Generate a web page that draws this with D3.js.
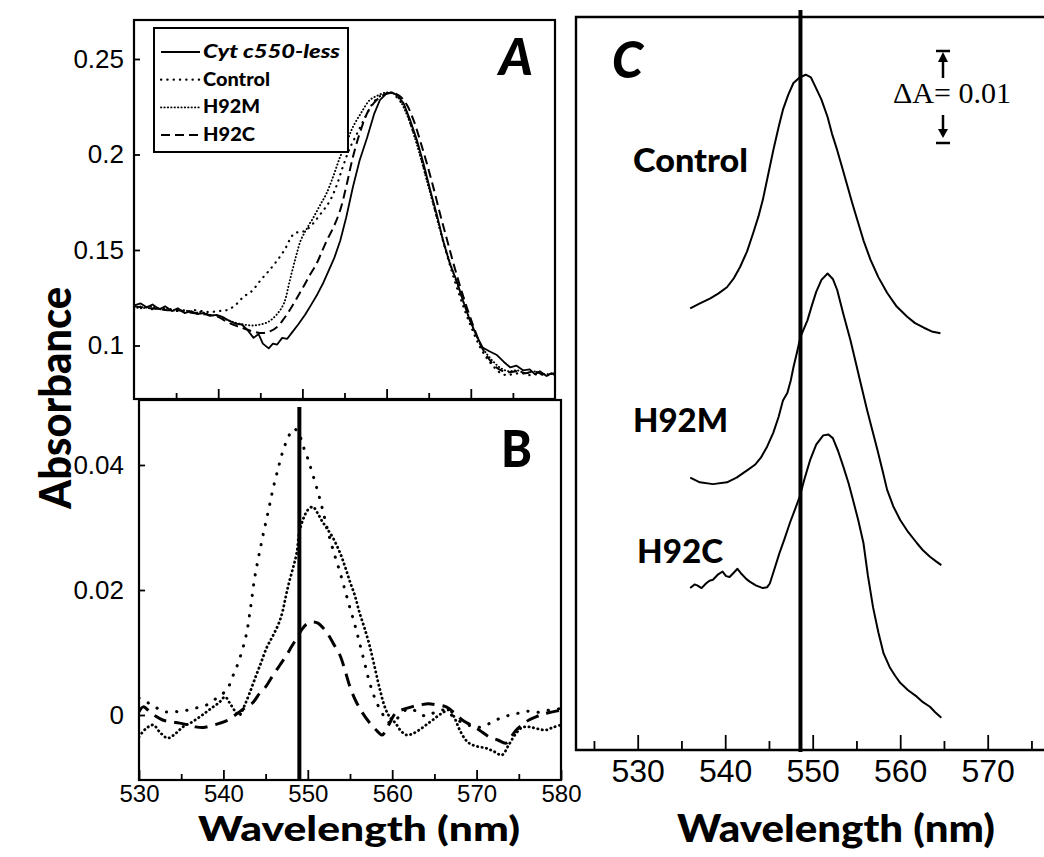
<!DOCTYPE html>
<html><head><meta charset="utf-8">
<script src="https://cdn.jsdelivr.net/npm/d3@7"></script>
<style>html,body{margin:0;padding:0;background:#fff;}svg{display:block;}</style>
</head><body>
<script>
// ---------- DATA ----------
const seriesNames = ["Cyt c550-less", "Control", "H92M", "H92C"];
const panelCLabels = ["Control", "H92M", "H92C"];
const xTicksAB = [530, 540, 550, 560, 570, 580];
const xMinorAB = [535, 545, 555, 565, 575];
const xTicksC = [530, 540, 550, 560, 570];
const xMinorC = [525, 535, 545, 555, 565, 575];
const yTicksA = [0.1, 0.15, 0.2, 0.25];
const yTickLabelsA = ["0.1", "0.15", "0.2", "0.25"];
const yTicksB = [0, 0.02, 0.04];
const yTickLabelsB = ["0", "0.02", "0.04"];
const markerB = 549.0;   // vertical line, panel B (nm)
const markerC = 548.6;   // vertical line, panel C (nm)
const scaleBarC = 0.01;  // ΔA scale bar

// Panel A: absorbance spectra [nm, A]
const aCytLess = [[530,0.121],[530.8,0.122],[531.5,0.120],[532.2,0.1215],[533,0.119],[533.7,0.1205],[534.5,0.118],[535.2,0.1195],[536,0.117],[536.8,0.118],[537.5,0.1165],[538.3,0.117],[539,0.1155],[539.8,0.116],[540.5,0.115],[541.3,0.113],[542,0.1115],[542.8,0.111],[543.5,0.108],[544.2,0.104],[544.8,0.106],[545.3,0.101],[546,0.0985],[546.5,0.101],[547,0.1005],[547.6,0.104],[548.2,0.1035],[548.8,0.107],[549.5,0.111],[550.3,0.116],[551,0.121],[551.8,0.127],[552.5,0.133],[553.2,0.140],[553.8,0.146],[554.5,0.155],[555.2,0.167],[556,0.183],[556.8,0.197],[557.7,0.209],[558.5,0.221],[559.2,0.2285],[560,0.232],[560.6,0.2325],[561.3,0.231],[562,0.227],[562.8,0.218],[563.6,0.2076],[564.4,0.195],[565.2,0.181],[566,0.168],[566.7,0.155],[567.5,0.143],[568.4,0.133],[569.1,0.123],[569.9,0.113],[570.7,0.105],[571.4,0.099],[572.2,0.097],[573.1,0.095],[573.9,0.0915],[574.7,0.0885],[575.4,0.0895],[576.2,0.087],[577,0.0875],[577.6,0.085],[578.2,0.0865],[579,0.084],[579.6,0.0855],[580,0.0845]];
const aControl = [[530,0.119],[531,0.1205],[532,0.119],[533,0.1195],[534,0.1185],[535,0.119],[536,0.1175],[537,0.1185],[538,0.118],[539,0.1175],[540,0.118],[541,0.1185],[542,0.121],[543,0.1255],[544,0.1285],[545,0.134],[546,0.139],[547,0.1445],[548,0.151],[548.7,0.157],[549.2,0.159],[550,0.1595],[550.6,0.161],[551.3,0.164],[552,0.168],[552.7,0.172],[553.3,0.176],[554,0.183],[554.8,0.1935],[555.6,0.203],[556.5,0.211],[557.4,0.219],[558.4,0.227],[559.2,0.2305],[560,0.232],[560.6,0.2322],[561.4,0.229],[562.2,0.224],[563,0.214],[563.8,0.203],[564.6,0.19],[565.4,0.177],[566.2,0.163],[567,0.15],[567.8,0.138],[568.6,0.127],[569.4,0.117],[570.2,0.108],[571,0.1],[571.8,0.094],[572.6,0.0895],[573.4,0.086],[574.2,0.0845],[575,0.085],[576,0.0855],[577,0.0845],[578,0.085],[579,0.0845],[580,0.085]];
const aH92M = [[530,0.12],[531,0.1195],[532,0.1205],[533,0.119],[534,0.1195],[535,0.118],[536,0.1185],[537,0.117],[538,0.1175],[539,0.116],[540,0.1155],[541,0.1135],[542,0.112],[543,0.111],[544,0.1105],[545,0.111],[546,0.1125],[547,0.1165],[547.8,0.122],[548.5,0.134],[549.2,0.146],[549.8,0.155],[550.5,0.161],[551.3,0.167],[552.1,0.1735],[552.9,0.18],[553.7,0.189],[554.5,0.199],[555.3,0.207],[556,0.2144],[557,0.222],[558,0.2285],[559,0.231],[560,0.2325],[560.8,0.232],[561.5,0.229],[562.3,0.222],[563.2,0.211],[564,0.199],[564.8,0.186],[565.6,0.173],[566.4,0.160],[567.2,0.148],[568,0.137],[568.8,0.127],[569.6,0.117],[570.4,0.108],[571.2,0.100],[572,0.095],[572.8,0.091],[573.6,0.088],[574.5,0.0865],[575.5,0.087],[576.5,0.0855],[577.5,0.0865],[578.5,0.085],[580,0.0855]];
const aH92C = [[530,0.1205],[531,0.12],[532,0.1195],[533,0.119],[534,0.1185],[535,0.1185],[536,0.118],[537,0.117],[538,0.1165],[539,0.116],[540,0.115],[541,0.1125],[542,0.1105],[543,0.109],[544,0.1075],[545.3,0.1065],[546.2,0.1075],[547,0.1097],[547.8,0.114],[548.5,0.1186],[549.3,0.1245],[550.1,0.1306],[550.9,0.137],[551.7,0.143],[552.3,0.149],[552.9,0.155],[553.7,0.162],[554.5,0.171],[555.3,0.185],[556,0.1987],[556.8,0.211],[557.7,0.2217],[558.5,0.227],[559.2,0.230],[560,0.2318],[560.8,0.2322],[561.6,0.2305],[562.4,0.226],[563.2,0.218],[564,0.207],[564.8,0.195],[565.6,0.182],[566.4,0.168],[567.2,0.155],[568,0.142],[568.8,0.13],[569.6,0.119],[570.4,0.109],[571.2,0.1],[572,0.094],[572.8,0.0895],[573.6,0.087],[574.5,0.086],[575.5,0.0865],[576.5,0.0855],[577.5,0.0865],[578.5,0.085],[580,0.0855]];

// Panel B: difference spectra [nm, ΔA]
const bControl = [[530,0.0027],[531,0.002],[532,0.0012],[533,0.0005],[534,0.0006],[535,0.0005],[536,0.0009],[537,0.0012],[538,0.0016],[539,0.0025],[540,0.0035],[540.6,0.0045],[541.2,0.0065],[541.8,0.0085],[542.7,0.0128],[543.2,0.017],[543.7,0.0219],[544.2,0.0255],[544.7,0.0288],[545.3,0.0325],[545.9,0.0363],[546.5,0.0395],[547,0.042],[547.7,0.0445],[548.3,0.0458],[548.9,0.0452],[549.4,0.0432],[550,0.041],[550.6,0.0384],[551.4,0.0347],[552,0.0315],[552.6,0.0283],[553.2,0.0255],[553.8,0.0229],[554.4,0.02],[555,0.0171],[555.6,0.0143],[556.1,0.0117],[556.7,0.0085],[557.3,0.0053],[558,0.0025],[558.8,0.0003],[559.6,-0.0012],[560.4,-0.0008],[561.2,0.0004],[562,0.001],[563,0.0005],[564,-0.0002],[565,0.0004],[566,0.0008],[567,0.0],[568,-0.001],[569,-0.0016],[570,-0.002],[571,-0.0017],[572,-0.001],[573,-0.0004],[574,0.0],[575,0.0003],[576,0.0006],[577,0.0004],[578,0.0006],[579,0.0009],[580,0.001]];
const bH92M = [[530,-0.0035],[530.8,-0.0022],[531.7,-0.0016],[532.5,-0.0028],[533.4,-0.0037],[534.3,-0.003],[535.2,-0.0019],[536.2,-0.0012],[537.2,-0.0003],[538,0.0005],[538.8,0.0013],[539.5,0.002],[540.2,0.0029],[540.8,0.0018],[541.4,0.0006],[541.9,0.0],[542.5,0.0015],[543.1,0.0035],[543.9,0.0064],[544.5,0.0085],[545.1,0.0107],[545.6,0.012],[546.1,0.0133],[546.6,0.0148],[547,0.0165],[547.4,0.019],[547.8,0.0213],[548.3,0.0238],[548.7,0.026],[549,0.0293],[549.5,0.0315],[550,0.0328],[550.6,0.0333],[551.2,0.0322],[551.7,0.031],[552.2,0.030],[553,0.0283],[553.8,0.026],[554.4,0.0238],[555,0.0213],[555.6,0.019],[556.1,0.0165],[556.7,0.014],[557.3,0.0112],[557.9,0.0078],[558.5,0.0043],[559.2,0.001],[559.8,-0.0005],[560.4,-0.0013],[561,-0.0025],[561.7,-0.0032],[562.4,-0.003],[563.2,-0.0024],[564,-0.0016],[564.8,-0.0008],[565.8,0.0002],[566.8,0.0008],[567.4,-0.0005],[568,-0.0024],[568.6,-0.0038],[569.1,-0.0045],[570,-0.005],[571.1,-0.0053],[572,-0.0058],[573,-0.0064],[573.8,-0.0048],[574.7,-0.0029],[575.4,-0.002],[576.2,-0.0019],[577.2,-0.0022],[578.2,-0.0024],[579,-0.002],[580,-0.0016]];
const bH92C = [[530,0.0005],[530.5,0.0013],[531.3,0.0005],[532,-0.0002],[532.8,-0.0008],[533.8,-0.0011],[534.8,-0.0013],[535.8,-0.0016],[536.7,-0.0019],[537.6,-0.002],[538.6,-0.0017],[539.6,-0.0013],[540.4,-0.0009],[541.1,-0.0003],[541.8,0.0004],[542.6,0.0012],[543.5,0.002],[544.3,0.0035],[545,0.0045],[545.9,0.0064],[546.7,0.008],[547.5,0.0096],[548.1,0.011],[548.7,0.0123],[549.3,0.0137],[549.9,0.0146],[550.6,0.0149],[551.2,0.0147],[551.7,0.0141],[552.2,0.0133],[553,0.0115],[553.8,0.0096],[554.4,0.0072],[555,0.0045],[555.7,0.0022],[556.5,0.0003],[557.3,-0.0012],[558.1,-0.0024],[558.8,-0.0032],[559.5,-0.0018],[560.4,0.0003],[561.3,0.0009],[562.3,0.0013],[563.3,0.0016],[564.3,0.0018],[565.3,0.0016],[566.4,0.0013],[567.4,0.0003],[568.3,-0.0008],[569.3,-0.0016],[570.3,-0.0024],[571.5,-0.0035],[572.5,-0.004],[573.5,-0.0045],[574.1,-0.0035],[574.7,-0.0024],[575.5,-0.0015],[576.2,-0.0008],[577.2,-0.0002],[578,0.0002],[579,0.0005],[580,0.0008]];

// Panel C: offset spectra [nm, A (offset)]
const cControl = [[536,0.0480],[537,0.0485],[538.3,0.0491],[539.2,0.0496],[540.2,0.0503],[541,0.0513],[541.7,0.0525],[542.5,0.0542],[543.2,0.0562],[543.8,0.058],[544.3,0.0598],[544.9,0.0625],[545.5,0.0652],[546.1,0.0677],[546.6,0.0696],[547.2,0.0712],[547.8,0.0725],[548.5,0.0731],[549.2,0.0734],[549.8,0.0731],[550.3,0.0721],[551,0.0707],[551.7,0.0688],[552.2,0.067],[552.8,0.0652],[553.4,0.0632],[554,0.0612],[554.5,0.0595],[555.1,0.0576],[555.8,0.0554],[556.6,0.0533],[557.5,0.0514],[558.5,0.0497],[559.6,0.0482],[560.8,0.0471],[561.7,0.0464],[562.7,0.0459],[563.6,0.0455],[564.6,0.0453]];
const cH92M = [[536,0.0296],[537.1,0.0291],[538.6,0.0289],[540.2,0.0291],[541.3,0.0296],[542.5,0.0304],[543.4,0.031],[544.1,0.0318],[544.8,0.033],[545.5,0.0345],[546.1,0.0362],[546.6,0.038],[547.1,0.0388],[547.5,0.0402],[547.8,0.0416],[548.2,0.0432],[548.6,0.0449],[549,0.0458],[549.4,0.0467],[549.9,0.0483],[550.4,0.0498],[551,0.0511],[551.7,0.0518],[552.3,0.0512],[552.8,0.050],[553.5,0.0474],[554.3,0.0446],[554.9,0.0422],[555.4,0.0402],[556.2,0.037],[556.8,0.0348],[557.4,0.0326],[558,0.0303],[558.5,0.0283],[559.2,0.0265],[560,0.025],[560.9,0.0237],[561.9,0.0225],[562.6,0.0217],[563.4,0.021],[564.1,0.0205],[564.7,0.0201]];
const cH92C = [[536,0.0176],[536.5,0.018],[536.8,0.0179],[537.3,0.0176],[537.8,0.0181],[538.2,0.0184],[538.6,0.0185],[539.2,0.0191],[539.7,0.0194],[540.1,0.0189],[540.5,0.0188],[541,0.0193],[541.4,0.0197],[541.9,0.0191],[542.4,0.0186],[542.8,0.0183],[543.5,0.0179],[544.3,0.0176],[544.8,0.0177],[545.1,0.0181],[545.6,0.0196],[546.2,0.0214],[546.8,0.023],[547.4,0.0247],[548,0.0262],[548.5,0.0275],[549.1,0.0296],[549.7,0.0315],[550.4,0.0332],[551.2,0.0342],[551.8,0.0343],[552.3,0.0339],[552.9,0.0325],[553.5,0.0308],[554.1,0.029],[554.6,0.0272],[555.2,0.025],[555.8,0.0225],[556.3,0.019],[556.9,0.0155],[557.5,0.0128],[558.1,0.0105],[558.8,0.009],[559.4,0.0081],[560,0.0073],[560.9,0.0065],[561.9,0.0058],[562.6,0.0052],[563.4,0.0047],[564,0.0041],[564.7,0.0035]];

// ---------- DRAWING ----------
const W = 1044, H = 857;
const HAND = "'Lato','Open Sans','DejaVu Sans',sans-serif";
const ARIAL = "'Liberation Sans',Arial,sans-serif";
const svg = d3.select("body").append("svg").attr("width", W).attr("height", H);
svg.append("rect").attr("width", W).attr("height", H).attr("fill", "#fff");

const stylesA = {
  "Cyt c550-less": {w: 1.8, dash: null, cap: "butt"},
  "Control": {w: 2.2, dash: "0.3 6", cap: "round"},
  "H92M": {w: 1.9, dash: "0.3 3.1", cap: "round"},
  "H92C": {w: 2.0, dash: "9 5", cap: "butt"}
};
const stylesB = {
  "Control": {w: 3.0, dash: "0.3 10", cap: "round"},
  "H92M": {w: 2.8, dash: "0.3 4.2", cap: "round"},
  "H92C": {w: 3.0, dash: "13 8", cap: "butt"}
};

// scales
const xA = d3.scaleLinear().domain([530, 580]).range([134, 555]);
const yA = d3.scaleLinear().domain([0.1, 0.25]).range([345.5, 59]);
const xB = d3.scaleLinear().domain([530, 580]).range([139, 561]);
const yB = d3.scaleLinear().domain([0, 0.04]).range([715, 465]);
const xC = d3.scaleLinear().domain([530, 570]).range([637.7, 987.7]);
const yC = d3.scaleLinear().domain([0, 0.01]).range([750, 658]);

function clip(id, x, y, w, h) {
  svg.append("clipPath").attr("id", id).append("rect").attr("x", x).attr("y", y).attr("width", w).attr("height", h);
}
clip("clipA", 134, 20, 421, 379);
clip("clipB", 139, 400, 422, 380);

function drawSeries(g, data, x, y, st, curve) {
  const line = d3.line().x(d => x(d[0])).y(d => y(d[1])).curve(curve || d3.curveLinear);
  const p = g.append("path").attr("d", line(data)).attr("fill", "none").attr("stroke", "#000")
    .attr("stroke-width", st.w).attr("stroke-linecap", st.cap).attr("stroke-linejoin", "round");
  if (st.dash) p.attr("stroke-dasharray", st.dash);
}

function styleAxis(g, size, family) {
  g.select(".domain").remove();
  g.selectAll(".tick line").attr("stroke", "#000").attr("stroke-width", 1.8);
  g.selectAll(".tick text").attr("fill", "#000").attr("font-size", size).attr("font-family", family);
}

// ----- Panel A -----
const gA = svg.append("g");
const gAlines = gA.append("g").attr("clip-path", "url(#clipA)");
drawSeries(gAlines, aCytLess, xA, yA, stylesA["Cyt c550-less"]);
drawSeries(gAlines, aControl, xA, yA, stylesA["Control"], d3.curveCatmullRom);
drawSeries(gAlines, aH92M, xA, yA, stylesA["H92M"], d3.curveCatmullRom);
drawSeries(gAlines, aH92C, xA, yA, stylesA["H92C"], d3.curveCatmullRom);

gA.append("g").attr("transform", `translate(134,0)`)
  .call(d3.axisLeft(yA).tickValues(yTicksA).tickSize(-6).tickPadding(10)
    .tickFormat((d, i) => yTickLabelsA[i]))
  .call(g => styleAxis(g, 26, ARIAL));
gA.append("g").attr("transform", `translate(0,399)`)
  .call(d3.axisBottom(xA).tickValues(xTicksAB.slice(1, -1)).tickSize(-10).tickFormat(""))
  .call(g => styleAxis(g, 0, ARIAL));
gA.append("g").attr("transform", `translate(0,399)`)
  .call(d3.axisBottom(xA).tickValues(xMinorAB).tickSize(-6).tickFormat(""))
  .call(g => styleAxis(g, 0, ARIAL));
gA.append("rect").attr("x", 134).attr("y", 20).attr("width", 421).attr("height", 379)
  .attr("fill", "none").attr("stroke", "#000").attr("stroke-width", 2.2);

// legend
const leg = gA.append("g");
leg.append("rect").attr("x", 154).attr("y", 28).attr("width", 194).attr("height", 124)
  .attr("fill", "#fff").attr("stroke", "#000").attr("stroke-width", 2);
const legW = [137, 67, 57, 52];
seriesNames.forEach((name, i) => {
  const yy = 52 + i * 27.7;
  const st = stylesA[name];
  const l = leg.append("line").attr("x1", 161).attr("x2", 200).attr("y1", yy).attr("y2", yy)
    .attr("stroke", "#000").attr("stroke-width", st.w).attr("stroke-linecap", st.cap);
  if (st.dash) l.attr("stroke-dasharray", st.dash);
  leg.append("text").attr("x", 203).attr("y", yy + 6).text(name)
    .attr("font-family", HAND).attr("font-weight", 900).attr("font-size", 18)
    .attr("font-style", i === 0 ? "italic" : "normal")
    .attr("textLength", legW[i]).attr("lengthAdjust", "spacingAndGlyphs");
});
gA.append("text").attr("x", 499).attr("y", 75).text("A")
  .attr("font-family", HAND).attr("font-weight", 900).attr("font-style", "italic").attr("font-size", 52)
  .attr("textLength", 34).attr("lengthAdjust", "spacingAndGlyphs");

// ----- Panel B -----
const gB = svg.append("g");
const gBlines = gB.append("g").attr("clip-path", "url(#clipB)");
drawSeries(gBlines, bControl, xB, yB, stylesB["Control"], d3.curveCatmullRom);
drawSeries(gBlines, bH92M, xB, yB, stylesB["H92M"], d3.curveCatmullRom);
drawSeries(gBlines, bH92C, xB, yB, stylesB["H92C"], d3.curveCatmullRom);
gB.append("line").attr("x1", xB(markerB)).attr("x2", xB(markerB)).attr("y1", 407).attr("y2", 780)
  .attr("stroke", "#000").attr("stroke-width", 4);

gB.append("g").attr("transform", `translate(139,0)`)
  .call(d3.axisLeft(yB).tickValues(yTicksB).tickSize(-6).tickPadding(15)
    .tickFormat((d, i) => yTickLabelsB[i]))
  .call(g => styleAxis(g, 26, ARIAL));
gB.append("g").attr("transform", `translate(0,780)`)
  .call(d3.axisBottom(xB).tickValues(xTicksAB).tickSize(-10).tickPadding(5).tickFormat(d3.format("d")))
  .call(g => styleAxis(g, 24, ARIAL));
gB.append("g").attr("transform", `translate(0,780)`)
  .call(d3.axisBottom(xB).tickValues(xMinorAB).tickSize(-6).tickFormat(""))
  .call(g => styleAxis(g, 0, ARIAL));
gB.append("rect").attr("x", 139).attr("y", 400).attr("width", 422).attr("height", 380)
  .attr("fill", "none").attr("stroke", "#000").attr("stroke-width", 2.2);
gB.append("text").attr("x", 501).attr("y", 467).text("B")
  .attr("font-family", HAND).attr("font-weight", 900).attr("font-size", 52)
  .attr("textLength", 31).attr("lengthAdjust", "spacingAndGlyphs");

// axis titles
svg.append("text").attr("transform", "translate(71,398) rotate(-90)").attr("text-anchor", "middle")
  .text("Absorbance").attr("font-family", HAND).attr("font-weight", 900).attr("font-size", 44)
  .attr("textLength", 222).attr("lengthAdjust", "spacingAndGlyphs");
svg.append("text").attr("x", 198).attr("y", 841).text("Wavelength (nm)")
  .attr("font-family", HAND).attr("font-weight", 900).attr("font-size", 35)
  .attr("textLength", 322).attr("lengthAdjust", "spacingAndGlyphs");

// ----- Panel C -----
const gC = svg.append("g");
gC.append("path").attr("d", "M1050,17 H576 V750 H1050").attr("fill", "none")
  .attr("stroke", "#000").attr("stroke-width", 2.4);
const cSeries = [cControl, cH92M, cH92C];
cSeries.forEach(s => drawSeries(gC, s, xC, yC, {w: 2, dash: null, cap: "butt"}));
gC.append("line").attr("x1", xC(markerC)).attr("x2", xC(markerC)).attr("y1", 10).attr("y2", 752)
  .attr("stroke", "#000").attr("stroke-width", 4);
gC.append("g").attr("transform", `translate(0,750)`)
  .call(d3.axisBottom(xC).tickValues(xTicksC).tickSize(-15).tickPadding(9).tickFormat(d3.format("d")))
  .call(g => styleAxis(g, 32, ARIAL));
gC.append("g").attr("transform", `translate(0,750)`)
  .call(d3.axisBottom(xC).tickValues(xMinorC).tickSize(-9).tickFormat(""))
  .call(g => styleAxis(g, 0, ARIAL));

const cLabelPos = [[633, 172, 115], [633, 432, 95], [637, 563, 86]];
panelCLabels.forEach((t, i) => {
  gC.append("text").attr("x", cLabelPos[i][0]).attr("y", cLabelPos[i][1]).text(t)
    .attr("font-family", HAND).attr("font-weight", 900).attr("font-size", 33)
    .attr("textLength", cLabelPos[i][2]).attr("lengthAdjust", "spacingAndGlyphs");
});
gC.append("text").attr("x", 612).attr("y", 78).text("C")
  .attr("font-family", HAND).attr("font-weight", 900).attr("font-style", "italic").attr("font-size", 52)
  .attr("textLength", 31).attr("lengthAdjust", "spacingAndGlyphs");
svg.append("text").attr("x", 677).attr("y", 842).text("Wavelength (nm)")
  .attr("font-family", HAND).attr("font-weight", 900).attr("font-size", 38)
  .attr("textLength", 318).attr("lengthAdjust", "spacingAndGlyphs");

// ΔA scale bar
const sb = gC.append("g");
const ax = 943;
const yTop = 51, yBot = yTop + (yC(0) - yC(scaleBarC));
sb.append("line").attr("x1", ax - 7).attr("x2", ax + 7).attr("y1", yTop).attr("y2", yTop).attr("stroke", "#000").attr("stroke-width", 2.5);
sb.append("path").attr("d", `M${ax},${yTop + 1} L${ax - 5},${yTop + 11} L${ax + 5},${yTop + 11} Z`).attr("fill", "#000");
sb.append("line").attr("x1", ax).attr("x2", ax).attr("y1", yTop + 10).attr("y2", yTop + 27).attr("stroke", "#000").attr("stroke-width", 2.5);
sb.append("line").attr("x1", ax - 7).attr("x2", ax + 7).attr("y1", yBot).attr("y2", yBot).attr("stroke", "#000").attr("stroke-width", 2.5);
sb.append("path").attr("d", `M${ax},${yBot - 5} L${ax - 5},${yBot - 14} L${ax + 5},${yBot - 14} Z`).attr("fill", "#000");
sb.append("line").attr("x1", ax).attr("x2", ax).attr("y1", yBot - 28).attr("y2", yBot - 13).attr("stroke", "#000").attr("stroke-width", 2.5);
sb.append("text").attr("x", 893).attr("y", 103).text("\u0394A= 0.01")
  .attr("font-family", "'Liberation Serif','Times New Roman',serif").attr("font-size", 30)
  .attr("textLength", 118).attr("lengthAdjust", "spacingAndGlyphs");
</script>
</body></html>
